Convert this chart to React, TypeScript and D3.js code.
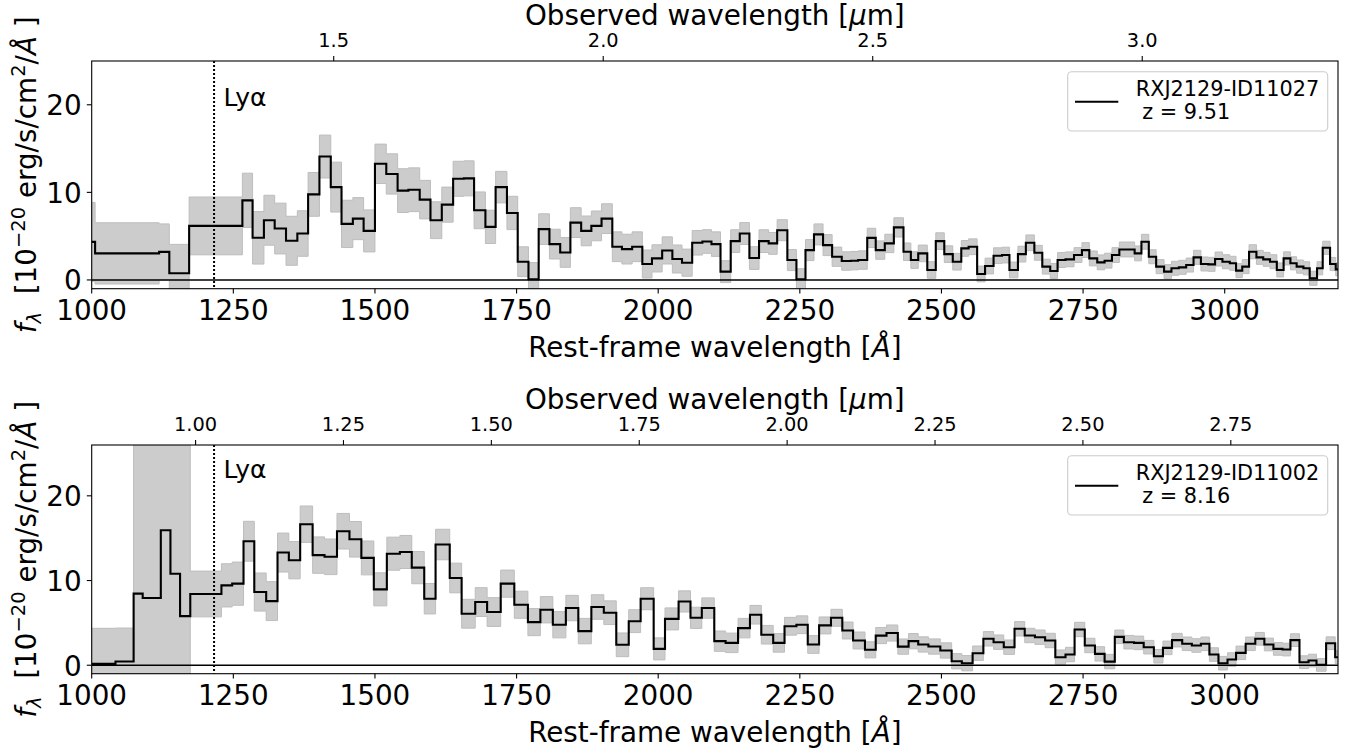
import React from 'react';
import * as d3 from 'd3';

// ---------- data ----------
const restTicks = [1000, 1250, 1500, 1750, 2000, 2250, 2500, 2750, 3000];
const restDomain = [1000, 3200];
const yTicks = [0, 10, 20];

const obsTicks1 = [1.5, 2.0, 2.5, 3.0];
const obsTicks2 = [1.0, 1.25, 1.5, 1.75, 2.0, 2.25, 2.5, 2.75];

const names = ['RXJ2129-ID11027', 'RXJ2129-ID11002'];
const redshifts = [9.51, 8.16];
const topRestMin = [1000, 900];
const yDomains = [[-1, 25], [-1, 26]];
const lyaWave = 1216;
const lyaLabelY = [19.9, 22.05];

const edges1 = [
  1000, 1006, 1119, 1137, 1172, 1266, 1284, 1304, 1323, 1343,
  1363, 1382, 1402, 1422, 1441, 1461, 1480, 1500, 1520, 1540,
  1559, 1579, 1598, 1618, 1638, 1657, 1675, 1695, 1713, 1733,
  1752, 1771, 1789, 1808, 1827, 1845, 1864, 1882, 1900, 1919,
  1936, 1954, 1972, 1989, 2007, 2025, 2042, 2060, 2078, 2094,
  2110, 2128, 2144, 2161, 2178, 2195, 2210, 2228, 2244, 2260,
  2275, 2291, 2307, 2324, 2340, 2353, 2369, 2384, 2400, 2416,
  2433, 2446, 2459, 2475, 2490, 2505, 2520, 2535, 2548, 2563,
  2577, 2592, 2607, 2620, 2635, 2649, 2664, 2678, 2692, 2705,
  2719, 2734, 2748, 2761, 2775, 2788, 2801, 2814, 2828, 2841,
  2853, 2866, 2879, 2893, 2906, 2919, 2932, 2945, 2958, 2971,
  2983, 2996, 3009, 3020, 3031, 3043, 3056, 3068, 3080, 3092,
  3104, 3116, 3127, 3139, 3150, 3163, 3173, 3186, 3196, 3210,
];
const flux1 = [
  4.35, 3.03, 3.2, 0.76, 6.17, 9.09, 4.81, 6.82, 5.87, 4.47,
  5.3, 9.77, 14.09, 10.6, 6.4, 7.0, 5.6, 13.26, 12.1, 10.2,
  10.3, 9.17, 6.82, 8.6, 11.55, 11.6, 7.95, 6.06, 10.6, 7.65,
  2.08, 0.08, 5.8, 4.09, 3.14, 6.55, 5.6, 6.17, 7.0, 3.79,
  3.52, 3.79, 1.82, 2.46, 3.37, 2.39, 1.97, 4.24, 4.39, 4.09,
  0.95, 4.43, 5.3, 2.5, 4.43, 4.17, 5.68, 2.27, 0.08, 3.41,
  5.2, 3.98, 2.65, 2.16, 2.2, 2.27, 4.8, 3.41, 4.17, 6.0,
  3.22, 2.27, 3.03, 1.14, 4.43, 2.95, 2.08, 3.6, 3.79, 0.68,
  1.59, 2.77, 2.84, 1.14, 2.95, 4.24, 3.1, 1.52, 1.02, 2.27,
  2.35, 2.84, 3.41, 2.46, 2.01, 2.2, 2.84, 3.48, 3.48, 3.03,
  4.36, 2.65, 1.52, 0.95, 1.33, 1.44, 1.7, 2.58, 1.82, 1.78,
  2.39, 2.08, 1.9, 1.06, 1.52, 3.22, 2.58, 2.35, 2.08, 1.14,
  2.46, 1.9, 1.52, 1.33, 0.19, 1.33, 3.67, 1.82, 1.21,
];
const err1 = [
  4.5, 3.5, 3.2, 3.3, 3.3, 3.1, 3.0, 2.85, 2.9, 2.8,
  2.6, 2.5, 2.45, 2.85, 2.7, 2.4, 2.4, 2.25, 2.3, 2.5,
  2.5, 2.2, 2.1, 2.0, 2.0, 2.0, 2.1, 1.9, 1.8, 1.9,
  1.7, 1.9, 1.75, 1.7, 1.7, 1.7, 1.7, 1.7, 1.7, 1.7,
  1.7, 1.7, 1.6, 1.55, 1.55, 1.6, 1.55, 1.4, 1.35, 1.4,
  1.25, 1.3, 1.25, 1.3, 1.3, 1.25, 1.2, 1.2, 1.2, 1.2,
  1.2, 1.2, 1.1, 1.05, 1.05, 1.05, 1.1, 1.05, 1.05, 1.1,
  1.0, 0.95, 0.95, 0.95, 0.95, 0.95, 0.95, 0.9, 0.9, 0.9,
  0.9, 0.9, 0.9, 0.9, 0.9, 0.9, 0.85, 0.85, 0.85, 0.85,
  0.85, 0.85, 0.85, 0.85, 0.85, 0.85, 0.85, 0.85, 0.85, 0.85,
  0.85, 0.8, 0.8, 0.8, 0.8, 0.8, 0.8, 0.8, 0.8, 0.8,
  0.8, 0.8, 0.8, 0.8, 0.8, 0.8, 0.8, 0.8, 0.8, 0.8,
  0.75, 0.75, 0.75, 0.75, 0.8, 0.75, 0.75, 0.75, 0.75,
];

const edges2 = [
  1000, 1042, 1074, 1090, 1122, 1139, 1156, 1174, 1229, 1248,
  1268, 1287, 1308, 1328, 1348, 1368, 1390, 1411, 1433, 1455,
  1476, 1498, 1521, 1544, 1565, 1587, 1607, 1632, 1653, 1677,
  1698, 1722, 1746, 1770, 1792, 1814, 1837, 1859, 1882, 1904,
  1926, 1948, 1969, 1992, 2012, 2036, 2057, 2077, 2099, 2119,
  2141, 2162, 2182, 2203, 2223, 2244, 2264, 2284, 2305, 2325,
  2344, 2365, 2384, 2403, 2423, 2442, 2459, 2477, 2498, 2518,
  2536, 2555, 2574, 2592, 2610, 2629, 2647, 2665, 2683, 2701,
  2719, 2735, 2753, 2771, 2788, 2806, 2822, 2840, 2857, 2875,
  2891, 2907, 2925, 2942, 2958, 2973, 2989, 3005, 3020, 3037,
  3054, 3070, 3086, 3102, 3116, 3132, 3148, 3162, 3179, 3195,
  3210,
];
const flux2 = [
  0.16, 0.44, 8.45, 7.93, 15.94, 10.8, 5.8, 8.41, 9.43, 9.63,
  14.64, 8.64, 7.57, 13.3, 12.4, 16.65, 13.0, 12.8, 15.82, 14.87,
  12.67, 8.96, 13.17, 13.37, 11.52, 7.85, 14.25, 10.3, 6.08, 7.46,
  6.28, 9.63, 7.14, 5.09, 6.55, 4.78, 6.75, 4.03, 6.87, 6.2,
  2.41, 5.2, 7.85, 1.93, 5.47, 7.53, 5.6, 6.75, 2.84, 2.64,
  4.38, 5.96, 3.6, 2.64, 4.6, 4.78, 2.45, 4.7, 5.6, 4.1,
  2.92, 1.82, 3.5, 3.8, 2.2, 2.84, 2.45, 2.21, 1.74, 0.47,
  0.24, 1.42, 3.12, 2.72, 2.13, 4.3, 3.51, 3.31, 2.92, 0.95,
  1.26, 4.22, 2.33, 1.34, 0.43, 3.35, 2.72, 2.64, 2.13, 1.06,
  2.05, 2.96, 2.53, 2.33, 2.53, 1.26, 0.24, 0.67, 1.46, 2.53,
  3.12, 2.45, 1.93, 1.85, 2.96, 0.36, 0.55, 0.04, 2.6, 0.95,
];
const err2 = [
  4.2, 3.95, 30, 30, 30, 30, 30, 2.7, 2.55, 2.55,
  2.35, 2.25, 2.3, 2.3, 2.2, 2.15, 2.15, 2.1, 2.1, 2.1,
  2.0, 1.95, 1.95, 1.95, 1.9, 1.8, 1.8, 1.75, 1.7, 1.7,
  1.7, 1.6, 1.6, 1.6, 1.55, 1.55, 1.5, 1.5, 1.45, 1.4,
  1.4, 1.35, 1.3, 1.3, 1.3, 1.25, 1.25, 1.2, 1.2, 1.15,
  1.15, 1.1, 1.1, 1.1, 1.05, 1.05, 1.05, 1.0, 1.0, 1.0,
  1.0, 0.95, 0.95, 0.95, 0.9, 0.9, 0.9, 0.9, 0.9, 0.9,
  0.9, 0.85, 0.85, 0.85, 0.85, 0.85, 0.85, 0.85, 0.85, 0.85,
  0.85, 0.85, 0.85, 0.85, 0.85, 0.8, 0.8, 0.8, 0.8, 0.8,
  0.8, 0.8, 0.8, 0.8, 0.8, 0.8, 0.8, 0.8, 0.8, 0.8,
  0.75, 0.75, 0.75, 0.75, 0.75, 0.75, 0.75, 0.75, 0.75, 0.75,
];

// ---------- layout ----------
const W = 1357;
const H = 752;
const L = 91.7;
const R = 1338;
const FONT = 'DejaVu Sans';
const BIG = 27.8;
const SMALL = 19.4;

const panels = [
  { top: 61, bottom: 288.7, edges: edges1, flux: flux1, err: err1, obsTicks: obsTicks1, fmt: d3.format('.1f') },
  { top: 445, bottom: 673.7, edges: edges2, flux: flux2, err: err2, obsTicks: obsTicks2, fmt: d3.format('.2f') },
];

function Panel({ idx }: { idx: number }) {
  const p = panels[idx];
  const z = redshifts[idx];
  const x = d3.scaleLinear().domain(restDomain).range([L, R]);
  const y = d3.scaleLinear().domain(yDomains[idx]).range([p.bottom, p.top]);
  const xTop = d3
    .scaleLinear()
    .domain([(topRestMin[idx] * (1 + z)) / 1e4, (restDomain[1] * (1 + z)) / 1e4])
    .range([L, R]);

  const n = Math.min(p.edges.length - 1, p.flux.length);
  const pts = d3.range(n).map((i) => ({ w: p.edges[i], f: p.flux[i], e: p.err[i] }));
  pts.push({ w: p.edges[n], f: p.flux[n - 1], e: p.err[n - 1] });

  const line = d3
    .line<any>()
    .x((d) => x(d.w))
    .y((d) => y(d.f))
    .curve(d3.curveStepAfter);
  const area = d3
    .area<any>()
    .x((d) => x(d.w))
    .y0((d) => y(d.f - d.e))
    .y1((d) => y(d.f + d.e))
    .curve(d3.curveStepAfter);

  const clipId = `clip${idx}`;
  const cy = (p.top + p.bottom) / 2;
  const cx = (L + R) / 2;
  const tick = 4.9;

  return (
    <g>
      <defs>
        <clipPath id={clipId}>
          <rect x={L} y={p.top} width={R - L} height={p.bottom - p.top} />
        </clipPath>
      </defs>
      <g clipPath={`url(#${clipId})`}>
        <path d={area(pts) || ''} fill="#cccccc" stroke="#bdbdbd" strokeWidth={1} />
        <line x1={L} x2={R} y1={y(0)} y2={y(0)} stroke="#000" strokeWidth={1.4} />
        <path d={line(pts) || ''} fill="none" stroke="#000" strokeWidth={2.1} />
        <line
          x1={x(lyaWave)}
          x2={x(lyaWave)}
          y1={p.top}
          y2={p.bottom}
          stroke="#000"
          strokeWidth={2}
          strokeDasharray="2,2"
        />
      </g>
      <text x={x(lyaWave) + 9.5} y={y(lyaLabelY[idx])} fontFamily={FONT} fontSize={25}>
        Lyα
      </text>

      {/* frame */}
      <rect x={L} y={p.top} width={R - L} height={p.bottom - p.top} fill="none" stroke="#000" strokeWidth={1.1} />

      {/* bottom axis */}
      {restTicks.map((t) => (
        <g key={`b${t}`}>
          <line x1={x(t)} x2={x(t)} y1={p.bottom} y2={p.bottom + tick} stroke="#000" strokeWidth={1.1} />
          <text x={x(t)} y={p.bottom + 31} textAnchor="middle" fontFamily={FONT} fontSize={BIG}>
            {t}
          </text>
        </g>
      ))}
      <text x={cx} y={p.bottom + 68} textAnchor="middle" fontFamily={FONT} fontSize={BIG}>
        {'Rest-frame wavelength ['}
        <tspan fontStyle="italic">Å</tspan>
        {']'}
      </text>

      {/* top axis */}
      {p.obsTicks.map((t) => (
        <g key={`t${t}`}>
          <line x1={xTop(t)} x2={xTop(t)} y1={p.top} y2={p.top - tick} stroke="#000" strokeWidth={1.1} />
          <text x={xTop(t)} y={p.top - 14.3} textAnchor="middle" fontFamily={FONT} fontSize={SMALL}>
            {p.fmt(t)}
          </text>
        </g>
      ))}
      <text x={cx} y={p.top - 36} textAnchor="middle" fontFamily={FONT} fontSize={BIG}>
        {'Observed wavelength ['}
        <tspan fontStyle="italic">μ</tspan>
        {'m]'}
      </text>

      {/* left axis */}
      {yTicks.map((t) => (
        <g key={`y${t}`}>
          <line x1={L} x2={L - tick} y1={y(t)} y2={y(t)} stroke="#000" strokeWidth={1.1} />
          <text x={L - 10} y={y(t) + 10.3} textAnchor="end" fontFamily={FONT} fontSize={BIG}>
            {t}
          </text>
        </g>
      ))}
      <text
        transform={`translate(36, ${cy}) rotate(-90)`}
        textAnchor="middle"
        fontFamily={FONT}
        fontSize={BIG}
        style={{ whiteSpace: 'pre' }}
      >
        <tspan fontStyle="italic">f</tspan>
        <tspan fontStyle="italic" fontSize={19.5} dy={5}>
          λ
        </tspan>
        <tspan dy={-5}>{'  [10'}</tspan>
        <tspan fontSize={19.5} dy={-11}>
          −20
        </tspan>
        <tspan dy={11}>{' erg/s/cm'}</tspan>
        <tspan fontSize={19.5} dy={-11}>
          2
        </tspan>
        <tspan dy={11}>/</tspan>
        <tspan fontStyle="italic">Å</tspan>
        <tspan>{' ]'}</tspan>
      </text>

      {/* legend */}
      <rect
        x={1067.7}
        y={p.top + 10.7}
        width={260}
        height={59.3}
        rx={4}
        fill="#fff"
        fillOpacity={0.8}
        stroke="#cccccc"
        strokeWidth={1.1}
      />
      <line x1={1075} x2={1118.3} y1={p.top + 40.8} y2={p.top + 40.8} stroke="#000" strokeWidth={2.1} />
      <text x={1135.7} y={p.top + 34.5} fontFamily={FONT} fontSize={20.8}>
        {names[idx]}
      </text>
      <text x={1142.3} y={p.top + 57.8} fontFamily={FONT} fontSize={20.8}>
        {`z = ${redshifts[idx].toFixed(2)}`}
      </text>
    </g>
  );
}

export default function App() {
  return (
    <svg
      width={W}
      height={H}
      viewBox={`0 0 ${W} ${H}`}
      style={{ position: 'absolute', left: 0, top: 0, background: '#fff' }}
    >
      <rect x={0} y={0} width={W} height={H} fill="#fff" />
      <Panel idx={0} />
      <Panel idx={1} />
    </svg>
  );
}
